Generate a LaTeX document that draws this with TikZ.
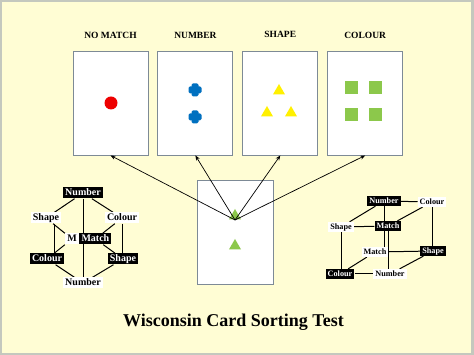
\documentclass[tikz,border=0pt]{standalone}
\usepackage{fontspec}
\setmainfont{Liberation Serif}
\usepackage{xcolor}
\usetikzlibrary{positioning, arrows.meta, shapes.geometric, backgrounds}

\definecolor{paper}{RGB}{255,253,212}
\definecolor{frame}{RGB}{196,200,190}
\definecolor{cardedge}{RGB}{125,138,150}
\definecolor{redspot}{RGB}{238,0,0}
\definecolor{bluecross}{RGB}{0,112,192}
\definecolor{yellowtri}{RGB}{255,240,0}
\definecolor{greensq}{RGB}{140,200,75}

\begin{document}
\begin{tikzpicture}[
    x=1pt, y=1pt,
    node distance=9pt,
    card/.style={rectangle, draw=cardedge, fill=white, line width=0.9pt, minimum width=75pt, minimum height=104pt, inner sep=0pt},
    cardlabel/.style={font=\fontsize{9.5}{11}\selectfont\bfseries, inner sep=1pt},
    tri/.style={regular polygon, regular polygon sides=3, minimum size=14pt, inner sep=0pt},
    sq/.style={rectangle, fill=greensq, minimum size=13pt, inner sep=0pt},
    pointer/.style={-{Stealth[length=5pt, width=4pt]}, line width=0.7pt},
    blk/.style={rectangle, fill=black, text=white, inner xsep=2.2pt, inner ysep=1.3pt, text height=6.8pt, text depth=1.6pt, font=\fontsize{10}{12}\selectfont\bfseries},
    wht/.style={rectangle, fill=white, text=black, inner xsep=2.2pt, inner ysep=1.3pt, text height=6.8pt, text depth=1.6pt, font=\fontsize{10}{12}\selectfont\bfseries},
    small/.style={inner xsep=2pt, text height=5.8pt, text depth=1.5pt, font=\fontsize{8.2}{10}\selectfont\bfseries},
    link/.style={line width=1pt, draw=black}
]
\useasboundingbox (0,0) rectangle (474,355);

% Paper
\begin{scope}[on background layer]
\fill[frame] (0,0) rectangle (474,355);
\fill[paper] (2,2) rectangle (471,353);
\end{scope}

% Choice cards
\node[card] (cNone) at (110.5,252) {};
\node[card, right=of cNone] (cNum) {};
\node[card, right=of cNum] (cShp) {};
\node[card, right=of cShp] (cCol) {};

\node[cardlabel, above=11pt of cNone] (lNone) {NO MATCH};
\node[cardlabel, above=11pt of cNum] (lNum) {NUMBER};
\node[cardlabel, above=12pt of cShp] (lShp) {SHAPE};
\node[cardlabel, above=11pt of cCol] (lCol) {COLOUR};

% Card symbols
\fill[redspot] (111,252) circle (6.5pt);
\fill[bluecross, rounded corners=1.5pt] (188.5,261.5) rectangle (201.5,268.5);
\fill[bluecross, rounded corners=1.5pt] (191.5,258.5) rectangle (198.5,271.5);
\fill[bluecross, rounded corners=1.5pt] (188.5,234.5) rectangle (201.5,241.5);
\fill[bluecross, rounded corners=1.5pt] (191.5,231.5) rectangle (198.5,244.5);
\node[tri, fill=yellowtri] (y1) at (279,264) {};
\node[tri, fill=yellowtri] (y2) at (267,242) {};
\node[tri, fill=yellowtri] (y3) at (291,242) {};
\node[sq] (g1) at (351,267) {};
\node[sq] (g2) at (375,267) {};
\node[sq] (g3) at (351,240) {};
\node[sq] (g4) at (375,240) {};

% Test card
\node[card, minimum width=76pt] (cTest) at (235,123) {};
\node[tri, fill=greensq] (t1) at (235,139) {};
\node[tri, fill=greensq] (t2) at (235,109) {};
\coordinate (hub) at (235,135);

% Sorting arrows
\draw[pointer] (hub) -- (cNone.south);
\draw[pointer] (hub) -- (cNum.south);
\draw[pointer] (hub) -- (cShp.south);
\draw[pointer] (hub) -- (cCol.south);

% Left cube
\node[blk] (aNum) at (83,162) {Number};
\node[wht] (aShp) at (46,137) {Shape};
\node[wht] (aCol) at (122,137) {Colour};
\node[wht] (aM) at (72,116) {M};
\node[blk, right=0pt of aM] (aMatch) {Match};
\node[blk] (aColB) at (47,96) {Colour};
\node[blk] (aShpB) at (123,96) {Shape};
\node[wht] (aNumB) at (83,72) {Number};

\begin{scope}[on background layer]
\draw[link] (aNum) -- (aShp);
\draw[link] (aNum) -- (aCol);
\draw[link] (aNum) -- (aNumB);
\draw[link] (aShp) -- (aM);
\draw[link] (aCol) -- (aMatch);
\draw[link] (aM) -- (aColB);
\draw[link] (aMatch) -- (aShpB);
\draw[link] ([xshift=8pt]aShp.south) -- ([xshift=8pt]aShp.south |- aColB.north);
\draw[link] (aCol.south) -- (aCol.south |- aShpB.north);
\draw[link] (aColB) -- (aNumB);
\draw[link] (aShpB) -- (aNumB);
\end{scope}

% Right cube
\node[blk, small] (bNum) at (384,154) {Number};
\node[wht, small] (bCol) at (432,153) {Colour};
\node[wht, small] (bShp) at (341,128) {Shape};
\node[blk, small] (bMatch) at (388,129) {Match};
\node[wht, small] (bMatchB) at (375,103) {Match};
\node[blk, small] (bShpB) at (433,104) {Shape};
\node[blk, small] (bColB) at (340,81) {Colour};
\node[wht, small] (bNumB) at (390,81) {Number};

\begin{scope}[on background layer]
\draw[link] (bNum) -- (bCol);
\draw[link] (bNum) -- (bShp);
\draw[link] (bNum.south) -- (bNum.south |- bMatchB.north);
\draw[link] (bCol) -- (bMatch);
\draw[link] (bShp) -- (bMatch);
\draw[link] (bCol.south) -- (bCol.south |- bShpB.north);
\draw[link] (bShp.south) -- (bShp.south |- bColB.north);
\draw[link] (bMatch.south) -- (bMatch.south |- bNumB.north);
\draw[link] (bMatchB) -- (bShpB);
\draw[link] (bMatchB) -- (bColB);
\draw[link] (bColB) -- (bNumB);
\draw[link] (bShpB) -- (bNumB);
\end{scope}

% Title
\node[font=\fontsize{18}{21}\selectfont\bfseries] (title) at (233.5,33) {Wisconsin Card Sorting Test};

\end{tikzpicture}
\end{document}
